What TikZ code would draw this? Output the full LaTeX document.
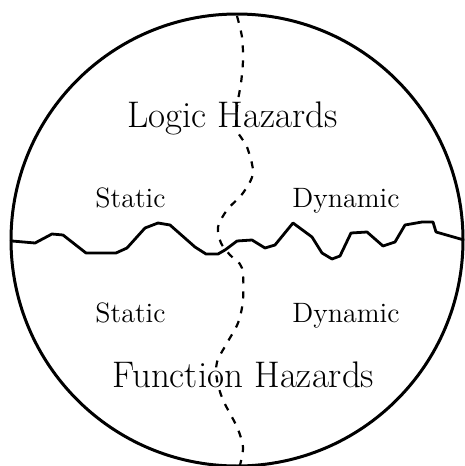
\documentclass[tikz,border=0pt]{standalone}
\usepackage{tikz}

\begin{document}
\begin{tikzpicture}[x=0.5pt,y=-0.5pt,
	every node/.style={anchor=base,font=\fontsize{14}{16}\selectfont},
	bigtext/.style={font=\fontsize{18.5}{22}\selectfont}]
	\useasboundingbox (0,0) rectangle (465,466);
	% outer circle
	\draw[line width=1.5pt] (237,240) circle (113pt);
	% jagged border between the two halves
	\draw[line width=1.4pt, line join=round] (12,241) -- (35,243) -- (52,234) -- (63,235)
		-- (86,253) -- (116,253) -- (127,248) -- (145,228) -- (158,223) -- (170,225)
		-- (195,247) -- (206,254) -- (218,254) -- (225,250) -- (237,241) -- (252,240)
		-- (265,248) -- (275,245) -- (293,223) -- (312,237) -- (322,253) -- (332,259)
		-- (340,256) -- (351,233) -- (367,232) -- (383,246) -- (395,242) -- (405,225)
		-- (422,222) -- (433,222) -- (436,232) -- (464,240);
	% dashed divider between static and dynamic
	\draw[line width=1.1pt, dash pattern=on 3.5pt off 4pt] plot[smooth] coordinates {
		(237,16) (242,37) (243,60) (241,83) (237,107) (237,130) (247,147) (253,173)
		(243,193) (227,210) (218,227) (221,243) (230,255) (242,268) (243,300)
		(238,323) (227,343) (217,362) (217,380) (223,400) (237,427) (243,447) (240,465)};
	\node[bigtext] (logic) at (232.5,127) {Logic Hazards};
	\node (logicstatic) at (130.5,207) {Static};
	\node (logicdynamic) at (346,207) {Dynamic};
	\node (funcstatic) at (130.5,322) {Static};
	\node (funcdynamic) at (346,322) {Dynamic};
	\node[bigtext] (function) at (243.5,387) {Function Hazards};
\end{tikzpicture}
\end{document}
